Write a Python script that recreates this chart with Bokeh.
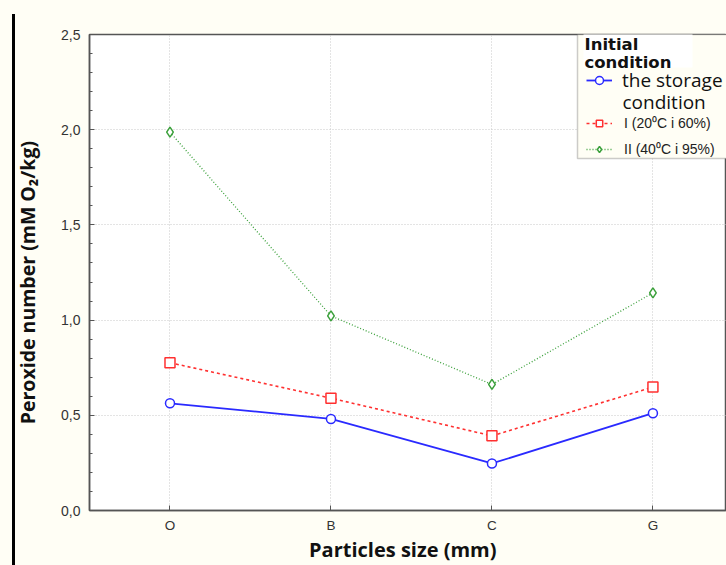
from bokeh.plotting import figure
from bokeh.models import (Range1d, FixedTicker, CustomJSTickFormatter, Legend, LegendItem,
                          Label, BoxAnnotation)
from bokeh.embed import file_html
from bokeh.resources import INLINE

categories = ["O", "B", "C", "G"]
initial = [0.563, 0.481, 0.247, 0.511]
cond_I = [0.776, 0.590, 0.392, 0.648]
cond_II = [1.987, 1.022, 0.662, 1.143]
y_ticks = [0.0, 0.5, 1.0, 1.5, 2.0, 2.5]

x_idx = list(range(len(categories)))

BG = "#FFFEF5"
AX = "#555555"
NB = "\u00a0"

# cream page with a thin black bar at the far left (drawn by CSS behind a transparent border)
host_styles = {
    "background-color": BG,
    "box-shadow": f"inset 0 14px 0 0 {BG}, inset 12px 0 0 0 {BG}, inset 15px 0 0 0 black",
}

p = figure(width=726, height=565, output_backend="svg", toolbar_location=None,
           x_range=Range1d(-0.5, 3.457), y_range=Range1d(0, 2.5),
           min_border_left=89, min_border_right=0, min_border_top=34, min_border_bottom=55,
           background_fill_color="white", border_fill_alpha=0, styles=host_styles)
p.outline_line_color = AX
p.outline_line_width = 1.5

# axes
p.xaxis.ticker = FixedTicker(ticks=x_idx)
p.xaxis.major_label_overrides = {i: c for i, c in zip(x_idx, categories)}
p.yaxis.ticker = FixedTicker(ticks=y_ticks, minor_ticks=[i / 10 for i in range(26)])
p.yaxis.formatter = CustomJSTickFormatter(code="return tick.toFixed(1).replace('.', ',')")
for ax in (p.xaxis[0], p.yaxis[0]):
    ax.axis_line_color = AX
    ax.axis_line_width = 1.5
    ax.major_tick_in = 5
    ax.major_tick_out = 0
    ax.minor_tick_in = 3
    ax.minor_tick_out = 0
    ax.major_tick_line_color = AX
    ax.minor_tick_line_color = AX
    ax.major_label_text_font = "Liberation Sans"
    ax.major_label_text_font_size = "14px"
    ax.major_label_text_color = "#333333"
    ax.major_label_standoff = 9
    ax.axis_label_text_font = "Open Sans"
    ax.axis_label_text_font_style = "bold"
    ax.axis_label_text_color = "#111111"
p.xaxis.minor_tick_line_color = None
p.xaxis.major_label_text_font_size = "13.5px"
p.xaxis.major_label_standoff = 7
p.xaxis.axis_label = "Particles size (mm)" + NB * 2
p.xaxis.axis_label_text_font_size = "20px"
p.xaxis.axis_label_standoff = 0
p.yaxis.axis_label = "Peroxide number (mM O\u2082/kg)" + NB * 4
p.yaxis.axis_label_text_font_size = "19.5px"
p.yaxis.axis_label_standoff = 17

p.xgrid.ticker = FixedTicker(ticks=x_idx)
p.ygrid.ticker = FixedTicker(ticks=y_ticks)
for g in (p.xgrid[0], p.ygrid[0]):
    g.grid_line_color = "#c8c8c8"
    g.grid_line_dash = "1 2"
    g.grid_line_width = 1

# series
r_blue_l = p.line(x_idx, initial, line_color="#2a2aff", line_width=1.8)
r_blue_m = p.scatter(x_idx, initial, marker="circle", size=9, line_color="#2a2aff",
                     fill_color="white", line_width=1.5)
r_red_l = p.line(x_idx, cond_I, line_color="#ff3030", line_width=1.6, line_dash="3 3")
r_red_m = p.scatter(x_idx, cond_I, marker="square", size=10, line_color="#ff3030",
                    fill_color="white", line_width=1.5)
r_grn_l = p.line(x_idx, cond_II, line_color="#3aa03a", line_width=1.3, line_dash="1 2")
r_grn_m = p.scatter(x_idx, cond_II, marker="diamond", size=10, line_color="#3aa03a",
                    fill_color="white", line_width=1.5)

def sbox(l, r, t, b, **kw):
    return BoxAnnotation(left=l, right=r, top=t, bottom=b, left_units="screen",
                         right_units="screen", top_units="screen", bottom_units="screen",
                         level="annotation", **kw)

# legend box (frame-relative screen units)
p.add_layout(sbox(488, 650, 476, 352, fill_color=BG, fill_alpha=1, line_color=AX, line_width=1.5))
p.add_layout(sbox(494, 603, 480, 443, fill_color="white", fill_alpha=1, line_color=None))

for txt, yy in (("Initial", 466), ("condition", 448)):
    p.add_layout(Label(x=495, y=yy, x_units="screen", y_units="screen", text=txt,
                       text_font="DejaVu Sans", text_font_style="bold", text_font_size="16.5px",
                       text_color="#111111", text_baseline="middle", level="annotation"))

leg1 = Legend(items=[LegendItem(label="the storage", renderers=[r_blue_l, r_blue_m])],
              location=(497, 417), padding=0, margin=0, border_line_color=None,
              background_fill_alpha=0, glyph_width=26, glyph_height=20, label_height=20,
              label_standoff=10, label_text_font="Open Sans", label_text_font_size="19px",
              label_text_color="#111111")
leg2 = Legend(items=[LegendItem(label="I (20\u2070C i 60%)", renderers=[r_red_l, r_red_m]),
                     LegendItem(label="II (40\u2070C i 95%)", renderers=[r_grn_l, r_grn_m])],
              location=(497, 352), padding=0, margin=0, border_line_color=None,
              background_fill_alpha=0, glyph_width=26, glyph_height=16, label_height=16,
              spacing=7, label_standoff=12, label_text_font="Liberation Sans",
              label_text_font_size="14px", label_text_color="#222222")
p.add_layout(leg1)
p.add_layout(leg2)
p.add_layout(Label(x=533, y=409, x_units="screen", y_units="screen", text="condition",
                   text_font="Open Sans", text_font_size="19px", text_color="#111111",
                   text_baseline="middle", level="annotation"))

open("out.html", "w").write(file_html(p, INLINE))
